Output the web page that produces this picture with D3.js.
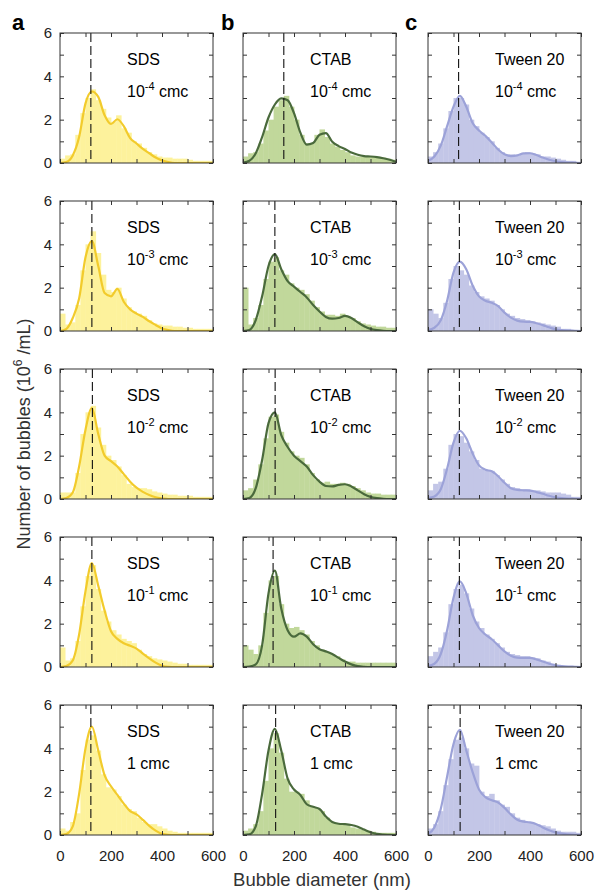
<!DOCTYPE html>
<meta charset="utf-8">
<head>
  <title>Bubble size distributions</title>
</head>

<style>
body { margin: 0; background: #fff; }
text { font-family: "Liberation Sans", Arial, Helvetica, sans-serif; fill: #222; }
</style>

<body>
  <svg width="595" height="890"></svg>

  <script src="https://cdn.jsdelivr.net/npm/d3@7"></script>
  <script>
// surfactants (columns) and concentrations (rows)
var surfactants = ["SDS", "CTAB", "Tween 20"];
var concExp = ["-4", "-3", "-2", "-1", ""];
var panelLetters = ["a", "b", "c"];

var xTicks = [0, 100, 200, 300, 400, 500, 600];
var xTickLabels = [0, 200, 400, 600];
var yTicks = [0, 1, 2, 3, 4, 5, 6];
var yTickLabels = [0, 2, 4, 6];

// fitted curve sampled every 25 nm
var curveX = [0, 25, 50, 75, 100, 125, 150, 175, 200, 225, 250, 275, 300,
              325, 350, 375, 400, 425, 450, 475, 500, 525, 550, 575, 600];
// histogram bins, 20 nm wide
var binStarts = d3.range(0, 600, 20);
var binWidth = 20;

// dashed line = mode of each distribution (nm)
var sdsPeak = [121, 125, 127, 125, 121];
var ctabPeak = [160, 125, 126, 118, 128];
var tweenPeak = [120, 123, 123, 123, 126];

var sdsCurve = [
  [0, 0.05, 0.35, 1.2, 2.75, 3.3, 3.05, 2.2, 1.8, 2.02, 1.7, 1.15, 0.9, 0.65, 0.45, 0.25, 0.12, 0.04, 0, 0, 0, 0, 0, 0, 0],
  [0, 0.1, 0.6, 1.5, 3.4, 4.15, 3.0, 1.75, 1.6, 1.94, 1.35, 1.0, 0.8, 0.65, 0.45, 0.28, 0.12, 0.04, 0, 0, 0, 0, 0, 0, 0],
  [0, 0.05, 0.3, 1.5, 3.2, 4.2, 3.0, 2.0, 1.75, 1.5, 1.15, 0.8, 0.52, 0.33, 0.18, 0.08, 0.03, 0, 0, 0, 0, 0, 0, 0, 0],
  [0, 0.05, 0.3, 1.5, 3.5, 4.8, 3.75, 2.6, 1.65, 1.3, 1.1, 0.98, 0.85, 0.62, 0.4, 0.2, 0.06, 0.01, 0, 0, 0, 0, 0, 0, 0],
  [0, 0.05, 0.4, 1.9, 4.0, 5.0, 3.9, 2.75, 2.25, 1.85, 1.45, 1.1, 0.95, 0.7, 0.42, 0.2, 0.05, 0.01, 0, 0, 0, 0, 0, 0, 0]
];
var ctabCurve = [
  [0.02, 0.1, 0.45, 1.2, 2.1, 2.7, 2.98, 2.9, 2.3, 1.4, 0.85, 0.92, 1.3, 1.38, 0.98, 0.78, 0.65, 0.48, 0.38, 0.32, 0.3, 0.27, 0.22, 0.15, 0.05],
  [0, 0.05, 0.5, 1.6, 3.0, 3.55, 2.85, 2.3, 2.05, 1.8, 1.55, 1.2, 0.9, 0.65, 0.57, 0.6, 0.7, 0.6, 0.4, 0.22, 0.1, 0.04, 0.01, 0, 0],
  [0, 0.05, 0.5, 1.8, 3.5, 4.0, 2.95, 2.4, 2.0, 1.75, 1.5, 1.1, 0.8, 0.6, 0.58, 0.65, 0.68, 0.58, 0.4, 0.22, 0.1, 0.04, 0.01, 0, 0],
  [0, 0.02, 0.12, 1.0, 3.4, 4.45, 2.7, 1.7, 1.4, 1.55, 1.4, 1.05, 0.82, 0.72, 0.6, 0.42, 0.25, 0.12, 0.04, 0.01, 0, 0, 0, 0, 0],
  [0, 0.03, 0.4, 1.9, 3.9, 4.9, 3.9, 2.6, 2.1, 1.85, 1.42, 1.3, 1.2, 0.85, 0.6, 0.52, 0.5, 0.46, 0.38, 0.25, 0.13, 0.05, 0.02, 0.01, 0]
];
var tweenCurve = [
  [0.1, 0.3, 0.8, 1.7, 2.6, 3.1, 2.6, 1.85, 1.5, 1.25, 0.95, 0.62, 0.4, 0.32, 0.35, 0.44, 0.45, 0.37, 0.25, 0.15, 0.08, 0.04, 0.02, 0.01, 0],
  [0.05, 0.15, 0.5, 1.4, 2.7, 3.2, 2.85, 2.1, 1.6, 1.4, 1.3, 1.15, 0.85, 0.62, 0.48, 0.43, 0.42, 0.36, 0.27, 0.17, 0.08, 0.04, 0.02, 0.01, 0],
  [0.05, 0.12, 0.45, 1.4, 2.6, 3.15, 2.8, 2.1, 1.55, 1.35, 1.28, 1.05, 0.75, 0.5, 0.42, 0.4, 0.39, 0.32, 0.24, 0.15, 0.08, 0.04, 0.02, 0.01, 0],
  [0.05, 0.15, 0.6, 1.7, 3.2, 3.95, 3.4, 2.4, 1.8, 1.5, 1.28, 1.0, 0.72, 0.52, 0.43, 0.42, 0.42, 0.35, 0.25, 0.15, 0.08, 0.04, 0.02, 0.01, 0],
  [0.05, 0.35, 1.2, 2.7, 4.2, 4.85, 3.9, 2.9, 2.1, 1.75, 1.6, 1.5, 1.25, 0.95, 0.7, 0.62, 0.58, 0.5, 0.35, 0.22, 0.12, 0.06, 0.03, 0.01, 0]
];

var sdsHist = [
  [0.2, 0.35, 0.4, 1.3, 2.3, 3.0, 3.4, 2.9, 2.5, 2.1, 1.9, 2.2, 1.6, 1.4, 1.0, 0.9, 0.7, 0.5, 0.4, 0.3, 0.25, 0.25, 0.2, 0.2, 0.2, 0.15, 0.1, 0.1, 0.1, 0.1],
  [0.8, 0.3, 0.4, 1.2, 2.8, 4.0, 4.6, 3.6, 2.6, 1.9, 1.8, 2.0, 1.5, 1.1, 0.9, 0.8, 0.7, 0.5, 0.35, 0.3, 0.25, 0.25, 0.2, 0.2, 0.15, 0.15, 0.1, 0.1, 0.1, 0.1],
  [0.3, 0.3, 0.3, 1.2, 3.0, 4.0, 4.3, 3.3, 2.5, 2.0, 1.8, 1.5, 1.1, 0.7, 0.55, 0.5, 0.5, 0.45, 0.35, 0.3, 0.25, 0.2, 0.2, 0.15, 0.15, 0.15, 0.1, 0.1, 0.1, 0.1],
  [0.9, 0.3, 0.4, 1.2, 2.8, 4.2, 4.7, 3.6, 2.6, 2.1, 1.7, 1.5, 1.3, 1.2, 1.1, 0.8, 0.6, 0.5, 0.4, 0.35, 0.3, 0.25, 0.2, 0.15, 0.15, 0.1, 0.1, 0.1, 0.1, 0.1],
  [0.3, 0.2, 0.6, 1.0, 3.0, 4.4, 4.6, 3.9, 2.8, 2.2, 2.1, 1.8, 1.4, 1.2, 1.1, 0.8, 0.6, 0.5, 0.5, 0.4, 0.3, 0.2, 0.15, 0.1, 0.1, 0.1, 0.1, 0.1, 0.1, 0.1]
];
var ctabHist = [
  [0.3, 0.45, 0.5, 0.9, 1.5, 2.0, 2.6, 2.9, 3.1, 2.6, 2.0, 1.3, 0.9, 0.9, 1.3, 1.55, 1.2, 0.9, 0.75, 0.6, 0.5, 0.35, 0.3, 0.3, 0.3, 0.3, 0.28, 0.25, 0.2, 0.15],
  [2.0, 0.3, 0.6, 1.2, 2.4, 3.2, 3.4, 2.8, 2.6, 2.2, 2.0, 1.9, 1.7, 1.4, 1.1, 0.9, 0.75, 0.75, 0.7, 0.8, 0.7, 0.6, 0.45, 0.35, 0.3, 0.25, 0.2, 0.2, 0.15, 0.15],
  [0.4, 0.5, 0.9, 1.6, 2.8, 3.8, 3.9, 3.1, 2.6, 2.2, 2.0, 1.9, 1.6, 1.2, 0.9, 0.75, 0.8, 0.7, 0.7, 0.75, 0.7, 0.6, 0.5, 0.4, 0.3, 0.25, 0.25, 0.2, 0.2, 0.2],
  [1.0, 0.8, 0.6, 1.0, 2.5, 4.0, 4.2, 2.9, 2.0, 1.8, 1.85, 1.7, 1.5, 1.2, 1.0, 0.8, 0.7, 0.6, 0.5, 0.35, 0.25, 0.25, 0.2, 0.2, 0.2, 0.2, 0.2, 0.2, 0.2, 0.2],
  [0.2, 0.3, 0.5, 1.1, 2.5, 4.0, 4.7, 3.8, 2.6, 2.0, 2.0, 1.9, 1.6, 1.3, 1.25, 1.1, 0.8, 0.6, 0.55, 0.5, 0.45, 0.35, 0.3, 0.25, 0.2, 0.15, 0.1, 0.1, 0.1, 0.1]
];
var tweenHist = [
  [0.3, 0.5, 0.9, 1.6, 2.4, 3.0, 3.0, 2.7, 2.0, 1.7, 1.4, 1.2, 1.0, 0.7, 0.5, 0.4, 0.4, 0.35, 0.45, 0.5, 0.45, 0.4, 0.3, 0.3, 0.25, 0.2, 0.15, 0.1, 0.1, 0.05],
  [1.0, 0.8, 0.6, 1.3, 2.4, 3.0, 2.8, 2.6, 2.1, 1.8, 1.6, 1.5, 1.4, 1.2, 1.0, 0.8, 0.7, 0.6, 0.55, 0.5, 0.45, 0.4, 0.35, 0.3, 0.25, 0.2, 0.1, 0.1, 0.05, 0.05],
  [0.4, 0.7, 0.8, 1.4, 2.5, 3.0, 2.9, 2.6, 2.2, 1.8, 1.4, 1.3, 1.3, 1.1, 0.9, 0.7, 0.55, 0.5, 0.45, 0.45, 0.4, 0.4, 0.35, 0.3, 0.3, 0.3, 0.25, 0.2, 0.1, 0.1],
  [0.5, 0.7, 0.9, 1.6, 2.9, 3.6, 3.8, 3.4, 2.7, 2.1, 1.8, 1.5, 1.3, 1.1, 0.9, 0.7, 0.6, 0.55, 0.5, 0.5, 0.45, 0.4, 0.3, 0.25, 0.15, 0.1, 0.05, 0.05, 0.05, 0.05],
  [0.3, 0.5, 1.1, 2.3, 3.5, 4.4, 4.5, 4.0, 3.3, 3.2, 2.0, 1.8, 1.9, 1.6, 1.4, 1.3, 1.0, 0.8, 0.7, 0.6, 0.55, 0.5, 0.45, 0.4, 0.3, 0.2, 0.15, 0.15, 0.15, 0.1]
];

var peaks = [sdsPeak, ctabPeak, tweenPeak];
var curves = [sdsCurve, ctabCurve, tweenCurve];
var hists = [sdsHist, ctabHist, tweenHist];
var histColors = ["#fdf29c", "#c1d89b", "#c3c6e7"];
var lineColors = ["#f2cb2c", "#4a6a3c", "#9ca2d8"];

// layout
var colLeft = [60, 243, 428];
var letterX = [12, 221, 405];
var panelW = 153, panelH = 130;
function rowTop(r) { return 33 + r * 168; }

var svg = d3.select("svg");

surfactants.forEach(function(name, c) {
  svg.append("text")
    .attr("x", letterX[c])
    .attr("y", 30)
    .attr("font-size", 22)
    .attr("font-weight", "bold")
    .style("fill", "#000")
    .text(panelLetters[c]);

  concExp.forEach(function(exp, r) {
    var top = rowTop(r);
    var x = d3.scaleLinear().domain([0, 600]).range([colLeft[c], colLeft[c] + panelW]);
    var y = d3.scaleLinear().domain([0, 6]).range([top + panelH, top]);
    var id = "clip" + c + "_" + r;

    var g = svg.append("g");
    g.append("clipPath").attr("id", id)
      .append("rect")
      .attr("x", colLeft[c]).attr("y", top)
      .attr("width", panelW).attr("height", panelH);

    var plot = g.append("g").attr("clip-path", "url(#" + id + ")");

    plot.selectAll("rect.bar")
      .data(hists[c][r])
      .enter()
      .append("rect")
      .attr("class", "bar")
      .attr("x", function(d, i) { return x(binStarts[i]); })
      .attr("width", x(binWidth) - x(0) + 0.4)
      .attr("y", function(d) { return y(d); })
      .attr("height", function(d) { return y(0) - y(d); })
      .attr("fill", histColors[c]);

    var line = d3.line()
      .x(function(d, i) { return x(curveX[i]); })
      .y(function(d) { return y(d); })
      .curve(d3.curveMonotoneX);

    plot.append("path")
      .attr("d", line(curves[c][r]))
      .attr("fill", "none")
      .attr("stroke", lineColors[c])
      .attr("stroke-width", 2.2);

    g.append("line")
      .attr("x1", x(peaks[c][r])).attr("x2", x(peaks[c][r]))
      .attr("y1", top).attr("y2", top + panelH)
      .attr("stroke", "#111")
      .attr("stroke-width", 1.1)
      .attr("stroke-dasharray", "9,4");

    // axes with inward ticks on all four sides
    var bottom = d3.axisBottom(x).tickValues(xTicks).tickSize(-4).tickPadding(15)
      .tickFormat(function(d) { return (r === 4 && xTickLabels.indexOf(d) >= 0) ? d : ""; });
    var topAx = d3.axisTop(x).tickValues(xTicks).tickSize(-4).tickFormat("");
    var left = d3.axisLeft(y).tickValues(yTicks).tickSize(-4).tickPadding(8)
      .tickFormat(function(d) { return (c === 0 && yTickLabels.indexOf(d) >= 0) ? d : ""; });
    var right = d3.axisRight(y).tickValues(yTicks).tickSize(-4).tickFormat("");

    [[bottom, "translate(0," + (top + panelH) + ")"],
     [topAx, "translate(0," + top + ")"],
     [left, "translate(" + colLeft[c] + ",0)"],
     [right, "translate(" + (colLeft[c] + panelW) + ",0)"]].forEach(function(a) {
      var ag = g.append("g").attr("transform", a[1]).call(a[0]);
      ag.select(".domain").remove();
      ag.selectAll("line").attr("stroke", "#333");
      ag.selectAll("text")
        .attr("font-family", "Liberation Sans, Arial, sans-serif")
        .attr("font-size", 15)
        .style("fill", "#222");
    });

    g.append("rect")
      .attr("x", colLeft[c]).attr("y", top)
      .attr("width", panelW).attr("height", panelH)
      .attr("fill", "none")
      .attr("stroke", "#333")
      .attr("stroke-width", 1);

    // labels inside panel
    var tx = colLeft[c] + 67;
    g.append("text")
      .attr("x", tx).attr("y", top + 32)
      .attr("font-size", 16)
      .style("fill", "#000")
      .text(name);

    var t = g.append("text")
      .attr("x", tx).attr("y", top + 64)
      .attr("font-size", 16)
      .style("fill", "#000");
    if (exp) {
      t.append("tspan").text("10");
      t.append("tspan").attr("dy", -7).attr("font-size", 11).text(exp);
      t.append("tspan").attr("dy", 7).text(" cmc");
    } else {
      t.text("1 cmc");
    }
  });
});

// axis titles
var yl = svg.append("text")
  .attr("transform", "translate(30,434) rotate(-90)")
  .attr("text-anchor", "middle")
  .attr("font-size", 18)
  .style("fill", "#333");
yl.append("tspan").text("Number of bubbles (10");
yl.append("tspan").attr("dy", -8).attr("font-size", 12).text("6");
yl.append("tspan").attr("dy", 8).text(" /mL)");

svg.append("text")
  .attr("x", 322).attr("y", 886)
  .attr("text-anchor", "middle")
  .attr("font-size", 18.5)
  .style("fill", "#333")
  .text("Bubble diameter (nm)");
  </script>
</body>
</html>
